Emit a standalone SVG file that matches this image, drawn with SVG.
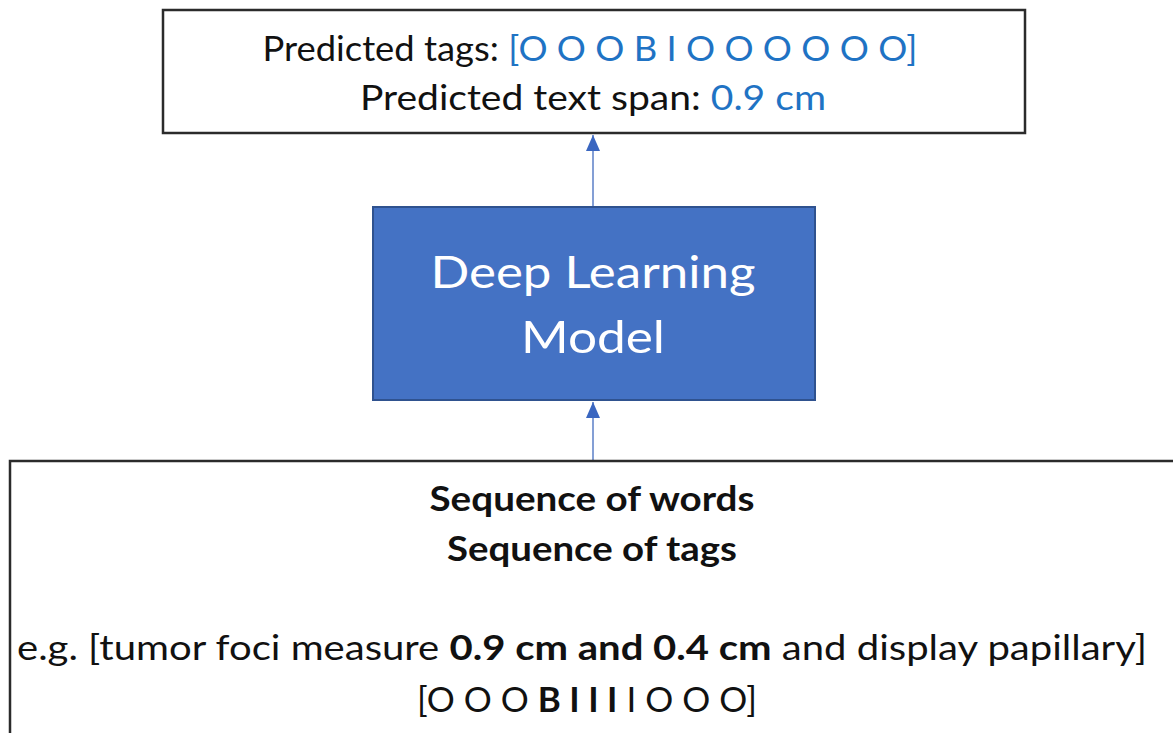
<svg xmlns="http://www.w3.org/2000/svg" width="1173" height="733" viewBox="0 0 1173 733">
  <style>
    .box { fill: #ffffff; stroke: #2b2b2b; stroke-width: 2.5; }
    .model { fill: #4472C4; stroke: #2F528F; stroke-width: 2; }
    .t { font-family: Lato, "Open Sans", "Liberation Sans", sans-serif; text-anchor: middle; fill: #111111; }
    .blue { fill: #1F73C4; }
    .b { font-weight: bold; }
    .w { fill: #ffffff; }
    .conn { stroke: #5B7FC7; stroke-width: 1.5; fill: none; marker-end: url(#arrow); }
  </style>
  <defs>
    <!-- triangular arrowhead, 16 long and 14 wide -->
    <marker id="arrow" viewBox="0 0 16 14" refX="16" refY="7" markerWidth="16" markerHeight="14" markerUnits="userSpaceOnUse" orient="auto">
      <path d="M0,0 L16,7 L0,14 Z" fill="#3A66C0"/>
    </marker>
  </defs>
  <rect width="1173" height="733" fill="#ffffff"/>

  <g id="connectors">
    <line class="conn" x1="593" y1="206" x2="593" y2="135"/>
    <line class="conn" x1="593" y1="460" x2="593" y2="402"/>
  </g>

  <g id="output">
    <rect class="box" x="163" y="10" width="862" height="123"/>
    <text class="t" x="590" y="61" font-size="35" textLength="655" lengthAdjust="spacingAndGlyphs">Predicted tags: <tspan class="blue">[O O O B I O O O O O O]</tspan></text>
    <text class="t" x="593" y="110" font-size="35" textLength="466" lengthAdjust="spacingAndGlyphs">Predicted text span:  <tspan class="blue">0.9 cm</tspan></text>
  </g>

  <g id="model">
    <rect class="model" x="373" y="207" width="442" height="193"/>
    <text class="t w" x="593" y="288" font-size="45" textLength="325" lengthAdjust="spacingAndGlyphs">Deep Learning</text>
    <text class="t w" x="593" y="353" font-size="45" textLength="144" lengthAdjust="spacingAndGlyphs">Model</text>
  </g>

  <g id="input">
    <rect class="box" x="10" y="461" width="1175" height="290"/>
    <text class="t b" x="592" y="511" font-size="35" textLength="325" lengthAdjust="spacingAndGlyphs">Sequence of words</text>
    <text class="t b" x="592" y="561" font-size="35" textLength="290" lengthAdjust="spacingAndGlyphs">Sequence of tags</text>
    <text class="t" x="582" y="660" font-size="35" textLength="1130" lengthAdjust="spacingAndGlyphs">e.g. [tumor foci measure <tspan class="b">0.9 cm and 0.4 cm</tspan> and display papillary]</text>
    <text class="t" x="587" y="712" font-size="35" textLength="340" lengthAdjust="spacingAndGlyphs">[O O O <tspan class="b">B I I I</tspan> I O O O]</text>
  </g>
</svg>
